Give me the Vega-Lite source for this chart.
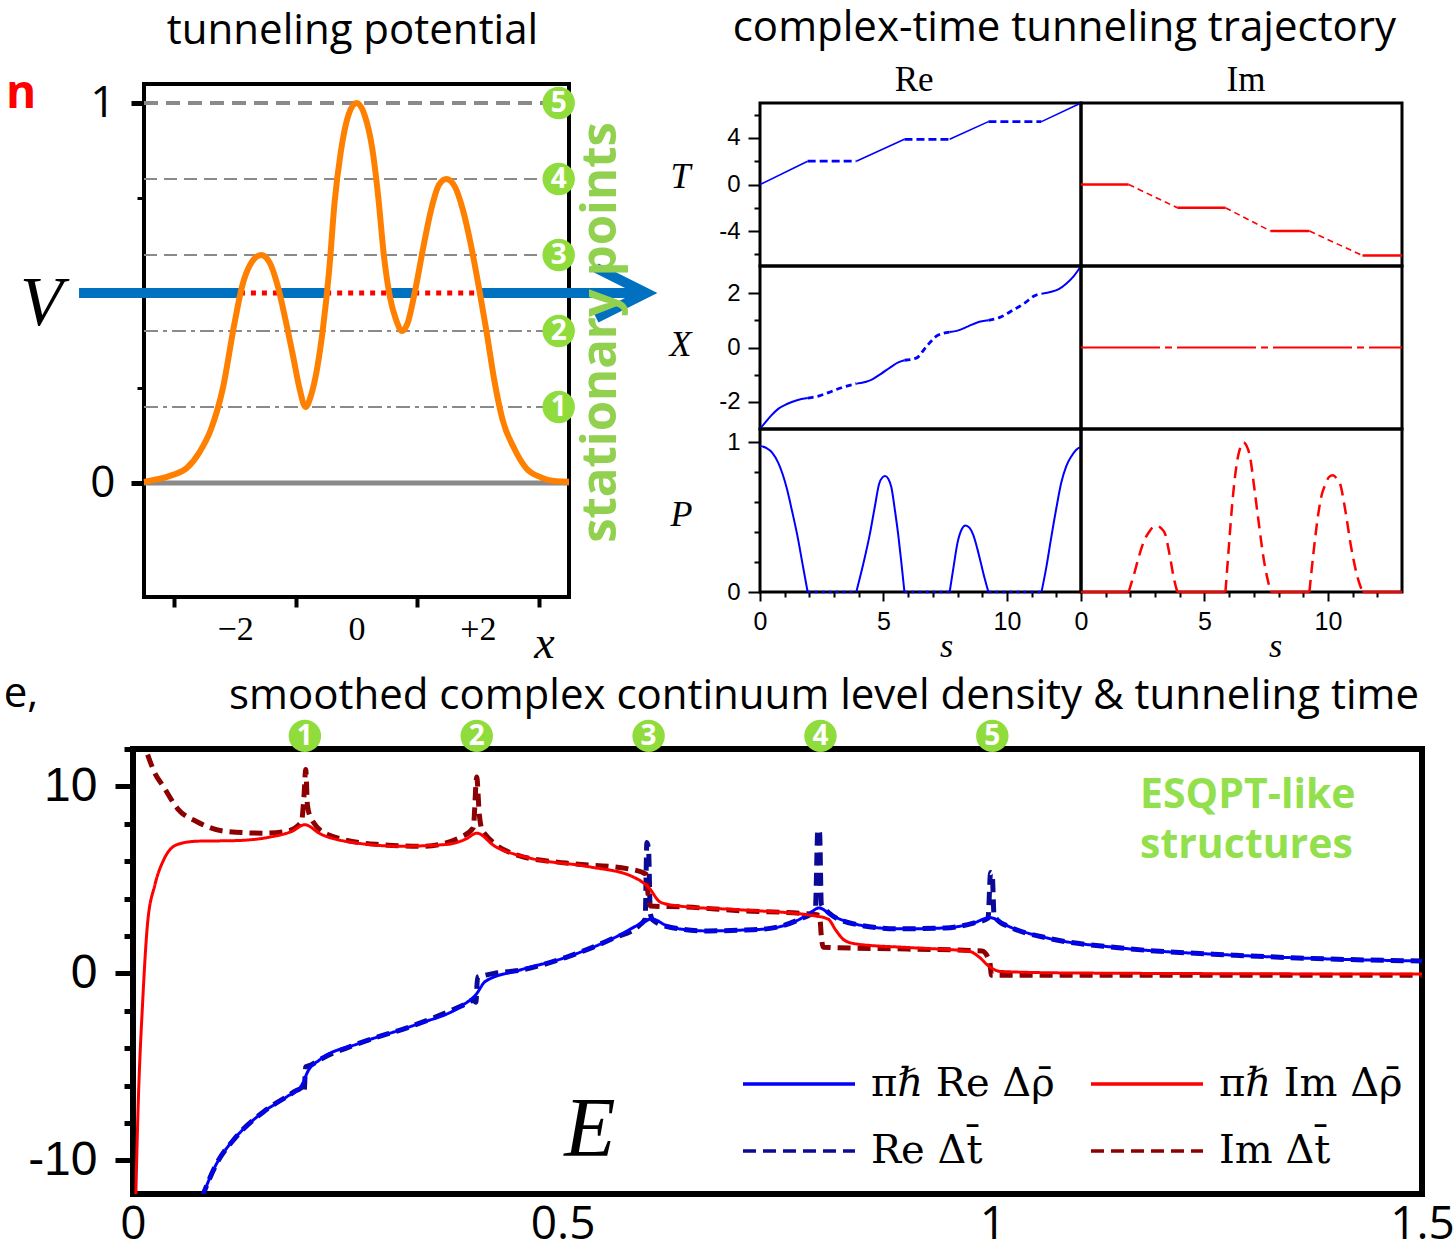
{
"$schema": "https://vega.github.io/schema/vega-lite/v6.json",
"padding": {"left": 0, "top": 5, "right": 0, "bottom": 0},
"background": "white",
"config": {"view": {"stroke": null}, "axis": {"domain": false, "grid": false, "tickColor": "black", "labelColor": "black", "titleColor": "black", "labelOverlap": false}},
"datasets": {
"pot": [{"x":-3.5,"V":0.003},{"x":-3.05,"V":0.02},{"x":-2.79,"V":0.04},{"x":-2.59,"V":0.08},{"x":-2.4,"V":0.14},{"x":-2.2,"V":0.25},{"x":-2.01,"V":0.42},{"x":-1.88,"V":0.52},{"x":-1.75,"V":0.575},{"x":-1.57,"V":0.6},{"x":-1.43,"V":0.58},{"x":-1.3,"V":0.52},{"x":-1.17,"V":0.43},{"x":-1.04,"V":0.33},{"x":-0.94,"V":0.25},{"x":-0.84,"V":0.2},{"x":-0.75,"V":0.23},{"x":-0.65,"V":0.3},{"x":-0.55,"V":0.41},{"x":-0.45,"V":0.56},{"x":-0.36,"V":0.74},{"x":-0.26,"V":0.87},{"x":-0.13,"V":0.97},{"x":0,"V":1.0},{"x":0.13,"V":0.97},{"x":0.26,"V":0.88},{"x":0.36,"V":0.75},{"x":0.45,"V":0.6},{"x":0.55,"V":0.49},{"x":0.65,"V":0.43},{"x":0.75,"V":0.4},{"x":0.84,"V":0.42},{"x":0.97,"V":0.51},{"x":1.1,"V":0.62},{"x":1.23,"V":0.72},{"x":1.36,"V":0.785},{"x":1.48,"V":0.8},{"x":1.62,"V":0.78},{"x":1.75,"V":0.72},{"x":1.88,"V":0.63},{"x":2.01,"V":0.52},{"x":2.14,"V":0.4},{"x":2.27,"V":0.27},{"x":2.4,"V":0.17},{"x":2.6,"V":0.09},{"x":2.79,"V":0.04},{"x":3.05,"V":0.014},{"x":3.25,"V":0.005},{"x":3.5,"V":0.003}],
"levels": [{"n":1,"level":0.2},{"n":2,"level":0.4},{"n":3,"level":0.6},{"n":4,"level":0.8},{"n":5,"level":1.0}],
"arrow": [{"x1":-4.57,"x2":-1.92,"kind":"real"},{"x1":-1.92,"x2":-1.27,"kind":"imag"},{"x1":-1.27,"x2":-0.5,"kind":"real"},{"x1":-0.5,"x2":0.55,"kind":"imag"},{"x1":0.55,"x2":0.95,"kind":"real"},{"x1":0.95,"x2":2.05,"kind":"imag"},{"x1":2.05,"x2":4.6,"kind":"real"}],
"traj": [
{"p":"ReT","seg":1,"kind":"real","s":0,"v":0},{"p":"ReT","seg":1,"kind":"real","s":1.93,"v":2.0},
{"p":"ReT","seg":2,"kind":"imag","s":1.93,"v":2.0},{"p":"ReT","seg":2,"kind":"imag","s":3.9,"v":2.0},
{"p":"ReT","seg":3,"kind":"real","s":3.9,"v":2.0},{"p":"ReT","seg":3,"kind":"real","s":5.85,"v":3.88},
{"p":"ReT","seg":4,"kind":"imag","s":5.85,"v":3.88},{"p":"ReT","seg":4,"kind":"imag","s":7.68,"v":3.88},
{"p":"ReT","seg":5,"kind":"real","s":7.68,"v":3.88},{"p":"ReT","seg":5,"kind":"real","s":9.25,"v":5.4},
{"p":"ReT","seg":6,"kind":"imag","s":9.25,"v":5.4},{"p":"ReT","seg":6,"kind":"imag","s":11.4,"v":5.4},
{"p":"ReT","seg":7,"kind":"real","s":11.4,"v":5.4},{"p":"ReT","seg":7,"kind":"real","s":13,"v":7.0},
{"p":"ImT","seg":1,"kind":"real","s":0,"v":0},{"p":"ImT","seg":1,"kind":"real","s":1.93,"v":0},
{"p":"ImT","seg":2,"kind":"imag","s":1.93,"v":0},{"p":"ImT","seg":2,"kind":"imag","s":3.9,"v":-2},
{"p":"ImT","seg":3,"kind":"real","s":3.9,"v":-2},{"p":"ImT","seg":3,"kind":"real","s":5.85,"v":-2},
{"p":"ImT","seg":4,"kind":"imag","s":5.85,"v":-2},{"p":"ImT","seg":4,"kind":"imag","s":7.68,"v":-4},
{"p":"ImT","seg":5,"kind":"real","s":7.68,"v":-4},{"p":"ImT","seg":5,"kind":"real","s":9.25,"v":-4},
{"p":"ImT","seg":6,"kind":"imag","s":9.25,"v":-4},{"p":"ImT","seg":6,"kind":"imag","s":11.4,"v":-6.1},
{"p":"ImT","seg":7,"kind":"real","s":11.4,"v":-6.1},{"p":"ImT","seg":7,"kind":"real","s":13,"v":-6.1},
{"p":"ReX","seg":1,"kind":"real","s":0,"v":-3.0},{"p":"ReX","seg":1,"kind":"real","s":0.25,"v":-2.72},{"p":"ReX","seg":1,"kind":"real","s":0.46,"v":-2.5},{"p":"ReX","seg":1,"kind":"real","s":0.75,"v":-2.25},{"p":"ReX","seg":1,"kind":"real","s":1.09,"v":-2.08},{"p":"ReX","seg":1,"kind":"real","s":1.5,"v":-1.94},{"p":"ReX","seg":1,"kind":"real","s":1.93,"v":-1.86},
{"p":"ReX","seg":2,"kind":"imag","s":1.93,"v":-1.86},{"p":"ReX","seg":2,"kind":"imag","s":2.4,"v":-1.78},{"p":"ReX","seg":2,"kind":"imag","s":2.77,"v":-1.66},{"p":"ReX","seg":2,"kind":"imag","s":3.3,"v":-1.48},{"p":"ReX","seg":2,"kind":"imag","s":3.9,"v":-1.33},
{"p":"ReX","seg":3,"kind":"real","s":3.9,"v":-1.33},{"p":"ReX","seg":3,"kind":"real","s":4.3,"v":-1.26},{"p":"ReX","seg":3,"kind":"real","s":4.55,"v":-1.17},{"p":"ReX","seg":3,"kind":"real","s":4.9,"v":-0.97},{"p":"ReX","seg":3,"kind":"real","s":5.28,"v":-0.73},{"p":"ReX","seg":3,"kind":"real","s":5.6,"v":-0.55},{"p":"ReX","seg":3,"kind":"real","s":5.85,"v":-0.47},
{"p":"ReX","seg":4,"kind":"imag","s":5.85,"v":-0.47},{"p":"ReX","seg":4,"kind":"imag","s":6.33,"v":-0.39},{"p":"ReX","seg":4,"kind":"imag","s":6.75,"v":0.05},{"p":"ReX","seg":4,"kind":"imag","s":7.2,"v":0.45},{"p":"ReX","seg":4,"kind":"imag","s":7.68,"v":0.57},
{"p":"ReX","seg":5,"kind":"real","s":7.68,"v":0.57},{"p":"ReX","seg":5,"kind":"real","s":8.0,"v":0.62},{"p":"ReX","seg":5,"kind":"real","s":8.43,"v":0.78},{"p":"ReX","seg":5,"kind":"real","s":8.8,"v":0.92},{"p":"ReX","seg":5,"kind":"real","s":9.25,"v":1.0},
{"p":"ReX","seg":6,"kind":"imag","s":9.25,"v":1.0},{"p":"ReX","seg":6,"kind":"imag","s":9.69,"v":1.1},{"p":"ReX","seg":6,"kind":"imag","s":10.2,"v":1.35},{"p":"ReX","seg":6,"kind":"imag","s":10.73,"v":1.64},{"p":"ReX","seg":6,"kind":"imag","s":11.1,"v":1.9},{"p":"ReX","seg":6,"kind":"imag","s":11.4,"v":1.98},
{"p":"ReX","seg":7,"kind":"real","s":11.4,"v":1.98},{"p":"ReX","seg":7,"kind":"real","s":11.8,"v":2.05},{"p":"ReX","seg":7,"kind":"real","s":12.1,"v":2.15},{"p":"ReX","seg":7,"kind":"real","s":12.4,"v":2.35},{"p":"ReX","seg":7,"kind":"real","s":12.7,"v":2.62},{"p":"ReX","seg":7,"kind":"real","s":13,"v":3.0},
{"p":"ImX","seg":1,"kind":"real","s":0,"v":0},{"p":"ImX","seg":1,"kind":"real","s":13,"v":0},
{"p":"ReP","seg":1,"kind":"real","s":0,"v":0.977},{"p":"ReP","seg":1,"kind":"real","s":0.25,"v":0.963},{"p":"ReP","seg":1,"kind":"real","s":0.5,"v":0.93},{"p":"ReP","seg":1,"kind":"real","s":0.75,"v":0.86},{"p":"ReP","seg":1,"kind":"real","s":1.09,"v":0.69},{"p":"ReP","seg":1,"kind":"real","s":1.3,"v":0.54},{"p":"ReP","seg":1,"kind":"real","s":1.51,"v":0.38},{"p":"ReP","seg":1,"kind":"real","s":1.72,"v":0.19},{"p":"ReP","seg":1,"kind":"real","s":1.93,"v":0},
{"p":"ReP","seg":2,"kind":"imag","s":1.93,"v":0},{"p":"ReP","seg":2,"kind":"imag","s":3.9,"v":0},
{"p":"ReP","seg":3,"kind":"real","s":3.9,"v":0},{"p":"ReP","seg":3,"kind":"real","s":4.2,"v":0.2},{"p":"ReP","seg":3,"kind":"real","s":4.44,"v":0.38},{"p":"ReP","seg":3,"kind":"real","s":4.65,"v":0.57},{"p":"ReP","seg":3,"kind":"real","s":4.82,"v":0.72},{"p":"ReP","seg":3,"kind":"real","s":4.95,"v":0.765},{"p":"ReP","seg":3,"kind":"real","s":5.07,"v":0.775},{"p":"ReP","seg":3,"kind":"real","s":5.2,"v":0.755},{"p":"ReP","seg":3,"kind":"real","s":5.32,"v":0.7},{"p":"ReP","seg":3,"kind":"real","s":5.47,"v":0.54},{"p":"ReP","seg":3,"kind":"real","s":5.6,"v":0.38},{"p":"ReP","seg":3,"kind":"real","s":5.73,"v":0.19},{"p":"ReP","seg":3,"kind":"real","s":5.85,"v":0},
{"p":"ReP","seg":4,"kind":"imag","s":5.85,"v":0},{"p":"ReP","seg":4,"kind":"imag","s":7.68,"v":0},
{"p":"ReP","seg":5,"kind":"real","s":7.68,"v":0},{"p":"ReP","seg":5,"kind":"real","s":7.85,"v":0.18},{"p":"ReP","seg":5,"kind":"real","s":8.0,"v":0.33},{"p":"ReP","seg":5,"kind":"real","s":8.17,"v":0.42},{"p":"ReP","seg":5,"kind":"real","s":8.32,"v":0.445},{"p":"ReP","seg":5,"kind":"real","s":8.48,"v":0.43},{"p":"ReP","seg":5,"kind":"real","s":8.64,"v":0.38},{"p":"ReP","seg":5,"kind":"real","s":8.8,"v":0.29},{"p":"ReP","seg":5,"kind":"real","s":8.95,"v":0.19},{"p":"ReP","seg":5,"kind":"real","s":9.1,"v":0.09},{"p":"ReP","seg":5,"kind":"real","s":9.25,"v":0},
{"p":"ReP","seg":6,"kind":"imag","s":9.25,"v":0},{"p":"ReP","seg":6,"kind":"imag","s":11.4,"v":0},
{"p":"ReP","seg":7,"kind":"real","s":11.4,"v":0},{"p":"ReP","seg":7,"kind":"real","s":11.6,"v":0.17},{"p":"ReP","seg":7,"kind":"real","s":11.78,"v":0.35},{"p":"ReP","seg":7,"kind":"real","s":12.0,"v":0.56},{"p":"ReP","seg":7,"kind":"real","s":12.2,"v":0.73},{"p":"ReP","seg":7,"kind":"real","s":12.4,"v":0.84},{"p":"ReP","seg":7,"kind":"real","s":12.62,"v":0.91},{"p":"ReP","seg":7,"kind":"real","s":12.8,"v":0.95},{"p":"ReP","seg":7,"kind":"real","s":13,"v":0.97},
{"p":"ImP","seg":1,"kind":"real","s":0,"v":0},{"p":"ImP","seg":1,"kind":"real","s":1.93,"v":0},
{"p":"ImP","seg":2,"kind":"imag","s":1.93,"v":0},{"p":"ImP","seg":2,"kind":"imag","s":2.15,"v":0.12},{"p":"ImP","seg":2,"kind":"imag","s":2.35,"v":0.24},{"p":"ImP","seg":2,"kind":"imag","s":2.55,"v":0.34},{"p":"ImP","seg":2,"kind":"imag","s":2.77,"v":0.405},{"p":"ImP","seg":2,"kind":"imag","s":2.93,"v":0.435},{"p":"ImP","seg":2,"kind":"imag","s":3.08,"v":0.44},{"p":"ImP","seg":2,"kind":"imag","s":3.25,"v":0.425},{"p":"ImP","seg":2,"kind":"imag","s":3.4,"v":0.39},{"p":"ImP","seg":2,"kind":"imag","s":3.6,"v":0.24},{"p":"ImP","seg":2,"kind":"imag","s":3.75,"v":0.1},{"p":"ImP","seg":2,"kind":"imag","s":3.9,"v":0},
{"p":"ImP","seg":3,"kind":"real","s":3.9,"v":0},{"p":"ImP","seg":3,"kind":"real","s":5.85,"v":0},
{"p":"ImP","seg":4,"kind":"imag","s":5.85,"v":0},{"p":"ImP","seg":4,"kind":"imag","s":6.0,"v":0.33},{"p":"ImP","seg":4,"kind":"imag","s":6.12,"v":0.58},{"p":"ImP","seg":4,"kind":"imag","s":6.3,"v":0.85},{"p":"ImP","seg":4,"kind":"imag","s":6.44,"v":0.96},{"p":"ImP","seg":4,"kind":"imag","s":6.58,"v":1.0},{"p":"ImP","seg":4,"kind":"imag","s":6.7,"v":0.98},{"p":"ImP","seg":4,"kind":"imag","s":6.85,"v":0.9},{"p":"ImP","seg":4,"kind":"imag","s":7.0,"v":0.72},{"p":"ImP","seg":4,"kind":"imag","s":7.17,"v":0.5},{"p":"ImP","seg":4,"kind":"imag","s":7.4,"v":0.22},{"p":"ImP","seg":4,"kind":"imag","s":7.68,"v":0},
{"p":"ImP","seg":5,"kind":"real","s":7.68,"v":0},{"p":"ImP","seg":5,"kind":"real","s":9.25,"v":0},
{"p":"ImP","seg":6,"kind":"imag","s":9.25,"v":0},{"p":"ImP","seg":6,"kind":"imag","s":9.42,"v":0.27},{"p":"ImP","seg":6,"kind":"imag","s":9.59,"v":0.5},{"p":"ImP","seg":6,"kind":"imag","s":9.75,"v":0.65},{"p":"ImP","seg":6,"kind":"imag","s":9.9,"v":0.72},{"p":"ImP","seg":6,"kind":"imag","s":10.05,"v":0.77},{"p":"ImP","seg":6,"kind":"imag","s":10.2,"v":0.78},{"p":"ImP","seg":6,"kind":"imag","s":10.35,"v":0.76},{"p":"ImP","seg":6,"kind":"imag","s":10.5,"v":0.72},{"p":"ImP","seg":6,"kind":"imag","s":10.7,"v":0.55},{"p":"ImP","seg":6,"kind":"imag","s":10.94,"v":0.3},{"p":"ImP","seg":6,"kind":"imag","s":11.15,"v":0.13},{"p":"ImP","seg":6,"kind":"imag","s":11.4,"v":0},
{"p":"ImP","seg":7,"kind":"real","s":11.4,"v":0},{"p":"ImP","seg":7,"kind":"real","s":13,"v":0}
],
"dos": [
{"series":"ReRho","q":"rho","E":0.08,"v":-12},{"series":"ReRho","q":"rho","E":0.097,"v":-10.2},{"series":"ReRho","q":"rho","E":0.119,"v":-8.8},{"series":"ReRho","q":"rho","E":0.152,"v":-7.4},{"series":"ReRho","q":"rho","E":0.179,"v":-6.6},{"series":"ReRho","q":"rho","E":0.196,"v":-6.0},{"series":"ReRho","q":"rho","E":0.204,"v":-5.2},{"series":"ReRho","q":"rho","E":0.218,"v":-4.6},{"series":"ReRho","q":"rho","E":0.262,"v":-3.76},{"series":"ReRho","q":"rho","E":0.328,"v":-2.76},{"series":"ReRho","q":"rho","E":0.382,"v":-1.75},{"series":"ReRho","q":"rho","E":0.399,"v":-1.14},{"series":"ReRho","q":"rho","E":0.41,"v":-0.43},{"series":"ReRho","q":"rho","E":0.449,"v":0.16},{"series":"ReRho","q":"rho","E":0.504,"v":0.86},{"series":"ReRho","q":"rho","E":0.559,"v":1.88},{"series":"ReRho","q":"rho","E":0.597,"v":2.8},{"series":"ReRho","q":"rho","E":0.603,"v":2.92},{"series":"ReRho","q":"rho","E":0.625,"v":2.47},{"series":"ReRho","q":"rho","E":0.668,"v":2.27},{"series":"ReRho","q":"rho","E":0.706,"v":2.31},{"series":"ReRho","q":"rho","E":0.737,"v":2.38},{"series":"ReRho","q":"rho","E":0.776,"v":2.9},{"series":"ReRho","q":"rho","E":0.79,"v":3.3},{"series":"ReRho","q":"rho","E":0.798,"v":3.5},{"series":"ReRho","q":"rho","E":0.814,"v":3.08},{"series":"ReRho","q":"rho","E":0.846,"v":2.58},{"series":"ReRho","q":"rho","E":0.89,"v":2.38},{"series":"ReRho","q":"rho","E":0.945,"v":2.43},{"series":"ReRho","q":"rho","E":0.978,"v":2.69},{"series":"ReRho","q":"rho","E":0.997,"v":2.98},{"series":"ReRho","q":"rho","E":1.021,"v":2.47},{"series":"ReRho","q":"rho","E":1.065,"v":1.88},{"series":"ReRho","q":"rho","E":1.147,"v":1.37},{"series":"ReRho","q":"rho","E":1.283,"v":0.97},{"series":"ReRho","q":"rho","E":1.392,"v":0.77},{"series":"ReRho","q":"rho","E":1.5,"v":0.66},
{"series":"ImRho","q":"rho","E":0.0032,"v":-12},{"series":"ImRho","q":"rho","E":0.0058,"v":-7.4},{"series":"ImRho","q":"rho","E":0.0115,"v":-1.3},{"series":"ImRho","q":"rho","E":0.017,"v":2.7},{"series":"ImRho","q":"rho","E":0.0253,"v":4.7},{"series":"ImRho","q":"rho","E":0.036,"v":6.1},{"series":"ImRho","q":"rho","E":0.052,"v":6.9},{"series":"ImRho","q":"rho","E":0.075,"v":7.07},{"series":"ImRho","q":"rho","E":0.119,"v":7.1},{"series":"ImRho","q":"rho","E":0.157,"v":7.27},{"series":"ImRho","q":"rho","E":0.185,"v":7.6},{"series":"ImRho","q":"rho","E":0.2,"v":7.95},{"series":"ImRho","q":"rho","E":0.218,"v":7.46},{"series":"ImRho","q":"rho","E":0.256,"v":7.0},{"series":"ImRho","q":"rho","E":0.311,"v":6.8},{"series":"ImRho","q":"rho","E":0.366,"v":6.9},{"series":"ImRho","q":"rho","E":0.388,"v":7.2},{"series":"ImRho","q":"rho","E":0.4,"v":7.5},{"series":"ImRho","q":"rho","E":0.421,"v":6.8},{"series":"ImRho","q":"rho","E":0.459,"v":6.2},{"series":"ImRho","q":"rho","E":0.531,"v":5.7},{"series":"ImRho","q":"rho","E":0.58,"v":5.2},{"series":"ImRho","q":"rho","E":0.6,"v":4.6},{"series":"ImRho","q":"rho","E":0.614,"v":3.8},{"series":"ImRho","q":"rho","E":0.636,"v":3.6},{"series":"ImRho","q":"rho","E":0.706,"v":3.4},{"series":"ImRho","q":"rho","E":0.79,"v":3.1},{"series":"ImRho","q":"rho","E":0.809,"v":2.9},{"series":"ImRho","q":"rho","E":0.818,"v":2.3},{"series":"ImRho","q":"rho","E":0.828,"v":1.77},{"series":"ImRho","q":"rho","E":0.842,"v":1.57},{"series":"ImRho","q":"rho","E":0.907,"v":1.37},{"series":"ImRho","q":"rho","E":0.973,"v":1.18},{"series":"ImRho","q":"rho","E":0.985,"v":0.86},{"series":"ImRho","q":"rho","E":0.996,"v":0.38},{"series":"ImRho","q":"rho","E":1.01,"v":0.1},{"series":"ImRho","q":"rho","E":1.094,"v":0.02},{"series":"ImRho","q":"rho","E":1.5,"v":-0.04},
{"series":"ReT","q":"t","E":0.08,"v":-12},{"series":"ReT","q":"t","E":0.097,"v":-10.2},{"series":"ReT","q":"t","E":0.119,"v":-8.8},{"series":"ReT","q":"t","E":0.152,"v":-7.4},{"series":"ReT","q":"t","E":0.179,"v":-6.6},{"series":"ReT","q":"t","E":0.195,"v":-6.2},{"series":"ReT","q":"t","E":0.199,"v":-6.4},{"series":"ReT","q":"t","E":0.201,"v":-5.0},{"series":"ReT","q":"t","E":0.207,"v":-4.9},{"series":"ReT","q":"t","E":0.218,"v":-4.6},{"series":"ReT","q":"t","E":0.262,"v":-3.76},{"series":"ReT","q":"t","E":0.328,"v":-2.76},{"series":"ReT","q":"t","E":0.382,"v":-1.75},{"series":"ReT","q":"t","E":0.396,"v":-1.45},{"series":"ReT","q":"t","E":0.399,"v":-1.55},{"series":"ReT","q":"t","E":0.401,"v":-0.2},{"series":"ReT","q":"t","E":0.41,"v":-0.1},{"series":"ReT","q":"t","E":0.42,"v":0.0},{"series":"ReT","q":"t","E":0.449,"v":0.16},{"series":"ReT","q":"t","E":0.504,"v":0.86},{"series":"ReT","q":"t","E":0.559,"v":1.88},{"series":"ReT","q":"t","E":0.59,"v":2.6},{"series":"ReT","q":"t","E":0.596,"v":2.9},{"series":"ReT","q":"t","E":0.598,"v":7.0},{"series":"ReT","q":"t","E":0.6,"v":6.6},{"series":"ReT","q":"t","E":0.602,"v":3.2},{"series":"ReT","q":"t","E":0.605,"v":2.85},{"series":"ReT","q":"t","E":0.625,"v":2.47},{"series":"ReT","q":"t","E":0.668,"v":2.27},{"series":"ReT","q":"t","E":0.706,"v":2.31},{"series":"ReT","q":"t","E":0.737,"v":2.38},{"series":"ReT","q":"t","E":0.776,"v":2.9},{"series":"ReT","q":"t","E":0.794,"v":3.35},{"series":"ReT","q":"t","E":0.797,"v":7.7},{"series":"ReT","q":"t","E":0.799,"v":7.5},{"series":"ReT","q":"t","E":0.801,"v":3.7},{"series":"ReT","q":"t","E":0.806,"v":3.4},{"series":"ReT","q":"t","E":0.814,"v":3.08},{"series":"ReT","q":"t","E":0.846,"v":2.58},{"series":"ReT","q":"t","E":0.89,"v":2.38},{"series":"ReT","q":"t","E":0.945,"v":2.43},{"series":"ReT","q":"t","E":0.978,"v":2.69},{"series":"ReT","q":"t","E":0.995,"v":2.95},{"series":"ReT","q":"t","E":0.998,"v":5.4},{"series":"ReT","q":"t","E":1.0,"v":5.2},{"series":"ReT","q":"t","E":1.002,"v":3.1},{"series":"ReT","q":"t","E":1.006,"v":2.85},{"series":"ReT","q":"t","E":1.021,"v":2.47},{"series":"ReT","q":"t","E":1.065,"v":1.88},{"series":"ReT","q":"t","E":1.147,"v":1.37},{"series":"ReT","q":"t","E":1.283,"v":0.97},{"series":"ReT","q":"t","E":1.392,"v":0.77},{"series":"ReT","q":"t","E":1.5,"v":0.66},
{"series":"ImT","q":"t","E":0.017,"v":11.7},{"series":"ImT","q":"t","E":0.025,"v":10.75},{"series":"ImT","q":"t","E":0.036,"v":9.95},{"series":"ImT","q":"t","E":0.052,"v":8.8},{"series":"ImT","q":"t","E":0.075,"v":8.1},{"series":"ImT","q":"t","E":0.107,"v":7.6},{"series":"ImT","q":"t","E":0.151,"v":7.5},{"series":"ImT","q":"t","E":0.179,"v":7.6},{"series":"ImT","q":"t","E":0.196,"v":8.1},{"series":"ImT","q":"t","E":0.199,"v":9.5},{"series":"ImT","q":"t","E":0.201,"v":10.9},{"series":"ImT","q":"t","E":0.203,"v":9.0},{"series":"ImT","q":"t","E":0.207,"v":8.3},{"series":"ImT","q":"t","E":0.228,"v":7.4},{"series":"ImT","q":"t","E":0.283,"v":6.9},{"series":"ImT","q":"t","E":0.338,"v":6.8},{"series":"ImT","q":"t","E":0.382,"v":7.3},{"series":"ImT","q":"t","E":0.396,"v":7.8},{"series":"ImT","q":"t","E":0.4,"v":10.5},{"series":"ImT","q":"t","E":0.403,"v":8.5},{"series":"ImT","q":"t","E":0.407,"v":7.6},{"series":"ImT","q":"t","E":0.449,"v":6.3},{"series":"ImT","q":"t","E":0.504,"v":5.9},{"series":"ImT","q":"t","E":0.575,"v":5.6},{"series":"ImT","q":"t","E":0.597,"v":5.3},{"series":"ImT","q":"t","E":0.599,"v":4.4},{"series":"ImT","q":"t","E":0.602,"v":3.6},{"series":"ImT","q":"t","E":0.641,"v":3.55},{"series":"ImT","q":"t","E":0.706,"v":3.35},{"series":"ImT","q":"t","E":0.781,"v":3.2},{"series":"ImT","q":"t","E":0.799,"v":3.1},{"series":"ImT","q":"t","E":0.801,"v":2.0},{"series":"ImT","q":"t","E":0.803,"v":1.4},{"series":"ImT","q":"t","E":0.901,"v":1.3},{"series":"ImT","q":"t","E":0.988,"v":1.2},{"series":"ImT","q":"t","E":0.997,"v":0.6},{"series":"ImT","q":"t","E":0.999,"v":-0.1},{"series":"ImT","q":"t","E":1.5,"v":-0.1}
]
},
"bounds": "flush",
"spacing": 665,
"vconcat": [
 {"bounds": "flush", "spacing": 0, "hconcat": [
  {"width": 11, "height": 1, "data": {"values": [{}]}, "mark": {"type": "point", "opacity": 0}},
  {"width": 425, "height": 513,
   "view": {"stroke": "black", "strokeWidth": 4},
   "layer": [
    {"data": {"values": [{}]}, "mark": {"type": "rule", "color": "#8a8a8a", "strokeWidth": 5},
     "encoding": {
      "x": {"datum": -3.5, "type": "quantitative", "scale": {"domain": [-3.5, 3.5], "nice": false, "zero": false},
        "axis": {"values": [-3,-2,-1,0,1,2,3], "labelExpr": "datum.value == -2 ? '\u22122' : datum.value == 2 ? '+2' : datum.value == 0 ? '0' : ''", "tickOpacity": {"condition": {"test": "datum.value % 2 == 0", "value": 0}, "value": 1}, "tickSize": 10, "tickWidth": 4, "labelFont": "Liberation Serif", "labelFontSize": 34, "labelPadding": 5, "labelFlush": false, "labelOverlap": false, "title": "x", "titleFont": "Liberation Serif", "titleFontStyle": "italic", "titleFontWeight": "normal", "titleFontSize": 46, "titleX": 400, "titleY": 60, "titleAlign": "center", "titleBaseline": "alphabetic"}},
      "x2": {"datum": 3.5},
      "y": {"datum": 0, "type": "quantitative", "scale": {"domain": [-0.3, 1.05], "nice": false, "zero": false},
        "axis": {"values": [0, 0.25, 0.5, 0.75, 1], "labelExpr": "datum.value == 0 || datum.value == 1 ? toString(datum.value) : ''", "tickSize": 13, "tickDash": {"condition": {"test": "datum.value != 0 && datum.value != 1", "value": [7, 40]}, "value": [100, 1]}, "tickWidth": {"condition": {"test": "datum.value == 0 || datum.value == 1", "value": 5}, "value": 3}, "labelFont": "Open Sans", "labelFontSize": 44, "labelPadding": 16, "labelOverlap": false, "title": null}}
     }},
    {"data": {"name": "levels"}, "transform": [{"filter": "datum.n == 5"}], "mark": {"type": "rule", "color": "#8a8a8a", "strokeWidth": 4, "strokeDash": [14, 8]},
     "encoding": {"x": {"datum": -3.5, "type": "quantitative"}, "x2": {"datum": 3.25}, "y": {"field": "level", "type": "quantitative"}}},
    {"data": {"name": "levels"}, "transform": [{"filter": "datum.n == 3 || datum.n == 4"}], "mark": {"type": "rule", "color": "#8a8a8a", "strokeWidth": 2, "strokeDash": [13, 7]},
     "encoding": {"x": {"datum": -3.5, "type": "quantitative"}, "x2": {"datum": 3.25}, "y": {"field": "level", "type": "quantitative"}}},
    {"data": {"name": "levels"}, "transform": [{"filter": "datum.n == 1 || datum.n == 2"}], "mark": {"type": "rule", "color": "#8a8a8a", "strokeWidth": 2, "strokeDash": [14, 5, 4, 5]},
     "encoding": {"x": {"datum": -3.5, "type": "quantitative"}, "x2": {"datum": 3.25}, "y": {"field": "level", "type": "quantitative"}}},
    {"data": {"name": "arrow"}, "transform": [{"filter": "datum.kind == 'real'"}], "mark": {"type": "rule", "color": "#0070c0", "strokeWidth": 10},
     "encoding": {"x": {"field": "x1", "type": "quantitative"}, "x2": {"field": "x2"}, "y": {"datum": 0.5, "type": "quantitative"}}},
    {"data": {"name": "arrow"}, "transform": [{"filter": "datum.kind == 'imag'"}], "mark": {"type": "rule", "color": "#ff0000", "strokeWidth": 5, "strokeDash": [5, 6]},
     "encoding": {"x": {"field": "x1", "type": "quantitative"}, "x2": {"field": "x2"}, "y": {"datum": 0.5, "type": "quantitative"}}},
    {"data": {"name": "pot"}, "mark": {"type": "line", "color": "#ff8000", "strokeWidth": 6, "interpolate": "monotone"},
     "encoding": {"x": {"field": "x", "type": "quantitative"}, "y": {"field": "V", "type": "quantitative"}}},
    {"data": {"values": [{}]}, "mark": {"type": "point", "shape": "M -1 -1 L 1 0 L -1 1", "filled": false, "color": "#0070c0", "stroke": "#0070c0", "strokeWidth": 10, "size": 2500, "opacity": 1, "strokeJoin": "miter"},
     "encoding": {"x": {"datum": 4.36, "type": "quantitative"}, "y": {"datum": 0.5, "type": "quantitative"}}},
    {"data": {"name": "levels"}, "mark": {"type": "point", "filled": true, "color": "#8fdc3c", "size": 1050, "opacity": 1},
     "encoding": {"x": {"datum": 3.33, "type": "quantitative"}, "y": {"field": "level", "type": "quantitative"}}},
    {"data": {"name": "levels"}, "mark": {"type": "text", "font": "Open Sans", "fontSize": 28, "fontWeight": "bold", "color": "white", "align": "center", "baseline": "middle", "dy": 1},
     "encoding": {"x": {"datum": 3.33, "type": "quantitative"}, "y": {"field": "level", "type": "quantitative"}, "text": {"field": "n", "type": "nominal"}}},
    {"data": {"values": [{}]}, "mark": {"type": "text", "text": "stationary points", "font": "Open Sans", "fontSize": 49, "fontWeight": "bold", "color": "#92d050", "angle": 270, "align": "center", "baseline": "middle"},
     "encoding": {"x": {"datum": 4.03, "type": "quantitative"}, "y": {"datum": 0.396, "type": "quantitative"}}},
    {"data": {"values": [{}]}, "mark": {"type": "text", "text": "V", "font": "Liberation Serif", "fontSize": 70, "fontStyle": "italic", "color": "black", "align": "center", "baseline": "alphabetic"},
     "encoding": {"x": {"datum": -5.19, "type": "quantitative"}, "y": {"datum": 0.416, "type": "quantitative"}}},
    {"data": {"values": [{}]}, "mark": {"type": "text", "text": "n", "font": "Open Sans", "fontSize": 46, "fontWeight": "bold", "color": "#ff0000", "align": "left", "baseline": "alphabetic"},
     "encoding": {"x": {"datum": -5.775, "type": "quantitative"}, "y": {"datum": 0.987, "type": "quantitative"}}},
    {"data": {"values": [{}]}, "mark": {"type": "text", "text": "tunneling potential", "font": "Open Sans", "fontSize": 42, "color": "black", "align": "center", "baseline": "alphabetic"},
     "encoding": {"x": {"datum": -0.066, "type": "quantitative"}, "y": {"datum": 1.155, "type": "quantitative"}}}
   ]},
  {"width": 191, "height": 1, "data": {"values": [{}]}, "mark": {"type": "point", "opacity": 0}},
  {"bounds": "flush", "spacing": 321, "hconcat": [
   {"bounds": "flush", "spacing": 0, "vconcat": [
    {"width": 321, "height": 19, "data": {"values": [{}]}, "mark": {"type": "point", "opacity": 0}},
    {"width": 321, "height": 163, "view": {"stroke": "black", "strokeWidth": 3},
     "data": {"name": "traj"}, "transform": [{"filter": "datum.p == 'ReT'"}],
     "layer": [
      {"transform": [{"filter": "datum.kind == 'real'"}], "mark": {"type": "line", "color": "#0000ff", "strokeWidth": 1.6, "interpolate": "monotone"},
       "encoding": {"x": {"field": "s", "type": "quantitative", "scale": {"domain": [0, 13], "nice": false, "zero": false}, "axis": null},
        "y": {"field": "v", "type": "quantitative", "scale": {"domain": [-7, 7], "nice": false, "zero": false},
         "axis": {"values": [-6,-4,-2,0,2,4,6], "labelExpr": "datum.value % 4 == 0 ? toString(datum.value) : ''", "tickSize": 12, "tickDash": {"condition": {"test": "datum.value % 4 != 0", "value": [6, 40]}, "value": [100, 1]}, "tickWidth": 2, "labelFont": "Liberation Sans", "labelFontSize": 24, "labelPadding": 8, "labelOverlap": false, "title": "T", "titleFont": "Liberation Serif", "titleFontStyle": "italic", "titleFontWeight": "normal", "titleFontSize": 36, "titleAngle": 0, "titleX": -80, "titleY": 73, "titleAlign": "center", "titleBaseline": "middle"}},
        "detail": {"field": "seg", "type": "nominal"}}},
      {"transform": [{"filter": "datum.kind == 'imag'"}], "mark": {"type": "line", "color": "#0000ff", "strokeWidth": 2.8, "strokeDash": [8, 4], "interpolate": "monotone"},
       "encoding": {"x": {"field": "s", "type": "quantitative", "scale": {"domain": [0, 13], "nice": false, "zero": false}, "axis": null},
        "y": {"field": "v", "type": "quantitative", "scale": {"domain": [-7, 7], "nice": false, "zero": false},
         "axis": {"values": [-6,-4,-2,0,2,4,6], "labelExpr": "datum.value % 4 == 0 ? toString(datum.value) : ''", "tickSize": 12, "tickDash": {"condition": {"test": "datum.value % 4 != 0", "value": [6, 40]}, "value": [100, 1]}, "tickWidth": 2, "labelFont": "Liberation Sans", "labelFontSize": 24, "labelPadding": 8, "labelOverlap": false, "title": "T", "titleFont": "Liberation Serif", "titleFontStyle": "italic", "titleFontWeight": "normal", "titleFontSize": 36, "titleAngle": 0, "titleX": -80, "titleY": 73, "titleAlign": "center", "titleBaseline": "middle"}},
        "detail": {"field": "seg", "type": "nominal"}}},
      {"data": {"values": [{}]}, "mark": {"type": "text", "text": "Re", "font": "Liberation Serif", "fontSize": 35, "color": "black", "align": "center", "baseline": "alphabetic"},
       "encoding": {"x": {"datum": 6.24, "type": "quantitative", "scale": {"domain": [0, 13], "nice": false, "zero": false}, "axis": null},
        "y": {"datum": 7.99, "type": "quantitative", "scale": {"domain": [-7, 7], "nice": false, "zero": false},
         "axis": {"values": [-6,-4,-2,0,2,4,6], "labelExpr": "datum.value % 4 == 0 ? toString(datum.value) : ''", "tickSize": 12, "tickDash": {"condition": {"test": "datum.value % 4 != 0", "value": [6, 40]}, "value": [100, 1]}, "tickWidth": 2, "labelFont": "Liberation Sans", "labelFontSize": 24, "labelPadding": 8, "labelOverlap": false, "title": "T", "titleFont": "Liberation Serif", "titleFontStyle": "italic", "titleFontWeight": "normal", "titleFontSize": 36, "titleAngle": 0, "titleX": -80, "titleY": 73, "titleAlign": "center", "titleBaseline": "middle"}}}}
     ]},
    {"width": 321, "height": 163, "view": {"stroke": "black", "strokeWidth": 3},
     "data": {"name": "traj"}, "transform": [{"filter": "datum.p == 'ReX'"}],
     "encoding": {
      "x": {"field": "s", "type": "quantitative", "scale": {"domain": [0, 13], "nice": false, "zero": false}, "axis": null},
      "y": {"field": "v", "type": "quantitative", "scale": {"domain": [-3, 3], "nice": false, "zero": false},
       "axis": {"values": [-2,-1,0,1,2], "labelExpr": "datum.value % 2 == 0 ? toString(datum.value) : ''", "tickSize": 12, "tickDash": {"condition": {"test": "datum.value % 2 != 0", "value": [6, 40]}, "value": [100, 1]}, "tickWidth": 2, "labelFont": "Liberation Sans", "labelFontSize": 24, "labelPadding": 8, "labelOverlap": false, "title": "X", "titleFont": "Liberation Serif", "titleFontStyle": "italic", "titleFontWeight": "normal", "titleFontSize": 36, "titleAngle": 0, "titleX": -80, "titleY": 78, "titleAlign": "center", "titleBaseline": "middle"}},
      "detail": {"field": "seg", "type": "nominal"}},
     "layer": [
      {"transform": [{"filter": "datum.kind == 'real'"}], "mark": {"type": "line", "color": "#0000ff", "strokeWidth": 2, "interpolate": "monotone"}},
      {"transform": [{"filter": "datum.kind == 'imag'"}], "mark": {"type": "line", "color": "#0000ff", "strokeWidth": 2.8, "strokeDash": [6, 4], "interpolate": "monotone"}}
     ]},
    {"width": 321, "height": 163, "view": {"stroke": "black", "strokeWidth": 3},
     "data": {"name": "traj"}, "transform": [{"filter": "datum.p == 'ReP'"}],
     "encoding": {
      "x": {"field": "s", "type": "quantitative", "scale": {"domain": [0, 13], "nice": false, "zero": false},
        "axis": {"values": [0,1,2,3,4,5,6,7,8,9,10,11,12], "labelExpr": "datum.value % 5 == 0 ? toString(datum.value) : ''", "tickSize": 9, "tickDash": {"condition": {"test": "datum.value % 5 != 0", "value": [5, 40]}, "value": [100, 1]}, "tickWidth": 2, "labelFont": "Liberation Sans", "labelFontSize": 25, "labelPadding": 8, "labelFlush": false, "labelOverlap": false, "title": "s", "titleFont": "Liberation Serif", "titleFontStyle": "italic", "titleFontWeight": "normal", "titleFontSize": 34, "titleX": 186, "titleY": 64, "titleAlign": "center", "titleBaseline": "alphabetic"}},
      "y": {"field": "v", "type": "quantitative", "scale": {"domain": [0, 1.09], "nice": false, "zero": false},
        "axis": {"values": [0, 0.2, 0.4, 0.6, 0.8, 1], "labelExpr": "datum.value == 0 || datum.value == 1 ? toString(datum.value) : ''", "tickSize": 12, "tickDash": {"condition": {"test": "datum.value != 0 && datum.value != 1", "value": [6, 40]}, "value": [100, 1]}, "tickWidth": 2, "labelFont": "Liberation Sans", "labelFontSize": 24, "labelPadding": 8, "labelOverlap": false, "title": "P", "titleFont": "Liberation Serif", "titleFontStyle": "italic", "titleFontWeight": "normal", "titleFontSize": 36, "titleAngle": 0, "titleX": -79, "titleY": 85, "titleAlign": "center", "titleBaseline": "middle"}},
      "detail": {"field": "seg", "type": "nominal"}},
     "layer": [
      {"transform": [{"filter": "datum.kind == 'real'"}], "mark": {"type": "line", "color": "#0000ff", "strokeWidth": 2, "interpolate": "monotone"}},
      {"transform": [{"filter": "datum.kind == 'imag'"}], "mark": {"type": "line", "color": "#0000ff", "strokeWidth": 2.5, "strokeDash": [3, 4], "interpolate": "monotone"}}
     ]}
   ]},
   {"bounds": "flush", "spacing": 0, "vconcat": [
    {"width": 321, "height": 19, "data": {"values": [{}]}, "mark": {"type": "point", "opacity": 0}},
    {"width": 321, "height": 163, "view": {"stroke": "black", "strokeWidth": 3},
     "data": {"name": "traj"}, "transform": [{"filter": "datum.p == 'ImT'"}],
     "layer": [
      {"transform": [{"filter": "datum.kind == 'real'"}], "mark": {"type": "line", "color": "#ff0000", "strokeWidth": 2.6, "interpolate": "monotone"},
       "encoding": {"x": {"field": "s", "type": "quantitative", "scale": {"domain": [0, 13], "nice": false, "zero": false}, "axis": null}, "y": {"field": "v", "type": "quantitative", "scale": {"domain": [-7, 7], "nice": false, "zero": false}, "axis": null}, "detail": {"field": "seg", "type": "nominal"}}},
      {"transform": [{"filter": "datum.kind == 'imag'"}], "mark": {"type": "line", "color": "#ff0000", "strokeWidth": 1.6, "strokeDash": [6, 4], "interpolate": "monotone"},
       "encoding": {"x": {"field": "s", "type": "quantitative", "axis": null}, "y": {"field": "v", "type": "quantitative", "axis": null}, "detail": {"field": "seg", "type": "nominal"}}},
      {"data": {"values": [{}]}, "mark": {"type": "text", "text": "Im", "font": "Liberation Serif", "fontSize": 35, "color": "black", "align": "center", "baseline": "alphabetic"},
       "encoding": {"x": {"datum": 6.68, "type": "quantitative", "axis": null}, "y": {"datum": 7.99, "type": "quantitative", "axis": null}}},
      {"data": {"values": [{}]}, "mark": {"type": "text", "text": "complex-time tunneling trajectory", "font": "Open Sans", "fontSize": 42, "color": "black", "align": "right", "baseline": "alphabetic"},
       "encoding": {"x": {"datum": 12.76, "type": "quantitative", "axis": null}, "y": {"datum": 12.32, "type": "quantitative", "axis": null}}}
     ]},
    {"width": 321, "height": 163, "view": {"stroke": "black", "strokeWidth": 3},
     "data": {"name": "traj"}, "transform": [{"filter": "datum.p == 'ImX'"}],
     "mark": {"type": "line", "color": "#ff0000", "strokeWidth": 2, "strokeDash": [79, 5, 7, 5]},
     "encoding": {"x": {"field": "s", "type": "quantitative", "scale": {"domain": [0, 13], "nice": false, "zero": false}, "axis": null}, "y": {"field": "v", "type": "quantitative", "scale": {"domain": [-3, 3], "nice": false, "zero": false}, "axis": null}}},
    {"width": 321, "height": 163, "view": {"stroke": "black", "strokeWidth": 3},
     "data": {"name": "traj"}, "transform": [{"filter": "datum.p == 'ImP'"}],
     "encoding": {
      "x": {"field": "s", "type": "quantitative", "scale": {"domain": [0, 13], "nice": false, "zero": false},
        "axis": {"values": [0,1,2,3,4,5,6,7,8,9,10,11,12], "labelExpr": "datum.value % 5 == 0 ? toString(datum.value) : ''", "tickSize": 9, "tickDash": {"condition": {"test": "datum.value % 5 != 0", "value": [5, 40]}, "value": [100, 1]}, "tickWidth": 2, "labelFont": "Liberation Sans", "labelFontSize": 25, "labelPadding": 8, "labelFlush": false, "labelOverlap": false, "title": "s", "titleFont": "Liberation Serif", "titleFontStyle": "italic", "titleFontWeight": "normal", "titleFontSize": 34, "titleX": 194, "titleY": 64, "titleAlign": "center", "titleBaseline": "alphabetic"}},
      "y": {"field": "v", "type": "quantitative", "scale": {"domain": [0, 1.09], "nice": false, "zero": false}, "axis": null},
      "detail": {"field": "seg", "type": "nominal"}},
     "layer": [
      {"transform": [{"filter": "datum.kind == 'real'"}], "mark": {"type": "line", "color": "#ff0000", "strokeWidth": 2.5, "interpolate": "monotone"}},
      {"transform": [{"filter": "datum.kind == 'imag'"}], "mark": {"type": "line", "color": "#ff0000", "strokeWidth": 2.5, "strokeDash": [12, 7], "interpolate": "monotone"}}
     ]}
   ]}
  ]}
 ]},
 {"width": 1289, "height": 445,
  "view": {"stroke": "black", "strokeWidth": 6},
  "layer": [
   {"data": {"name": "dos"}, "transform": [{"filter": "datum.q == 't'"}],
    "mark": {"type": "line", "strokeWidth": 5, "interpolate": "monotone", "clip": true},
    "encoding": {
     "x": {"field": "E", "type": "quantitative", "scale": {"domain": [0, 1.5], "nice": false, "zero": false},
       "axis": {"values": [0, 0.5, 1, 1.5], "labelExpr": "toString(datum.value)", "ticks": false, "labelFont": "Open Sans", "labelFontSize": 46, "labelPadding": 8, "labelFlush": false, "labelOverlap": false, "title": null}},
     "y": {"field": "v", "type": "quantitative", "scale": {"domain": [-11.8, 12], "nice": false, "zero": false},
       "axis": {"values": [-10,-8,-6,-4,-2,0,2,4,6,8,10,12], "labelExpr": "datum.value % 10 == 0 ? toString(datum.value) : ''", "tickSize": 18, "tickDash": {"condition": {"test": "datum.value % 10 != 0", "value": [9, 40]}, "value": [100, 1]}, "tickWidth": 5, "labelFont": "Liberation Sans", "labelFontSize": 48, "labelPadding": 18, "labelOverlap": false, "title": null}},
     "color": {"field": "series", "type": "nominal", "scale": {"domain": ["ReRho", "ReT", "ImRho", "ImT"], "range": ["#0000ff", "#0a0a96", "#ff0000", "#8b0000"]},
       "legend": {"orient": "none", "legendX": 608, "legendY": 975, "columns": 2, "title": null, "symbolType": "stroke", "symbolSize": 12544, "symbolStrokeWidth": 3.5, "clipHeight": 50, "labelFont": "DejaVu Serif", "labelFontSize": 40, "labelColor": "black", "labelOffset": 14, "labelLimit": 0, "columnPadding": 34, "rowPadding": 17, "padding": 0,
        "labelExpr": "datum.label == 'ReRho' ? '\u03c0\u210f Re \u0394\u03c1\u0304' : datum.label == 'ImRho' ? '\u03c0\u210f Im \u0394\u03c1\u0304' : datum.label == 'ReT' ? 'Re \u0394t\u0304' : 'Im \u0394t\u0304'"}},
     "strokeDash": {"field": "series", "type": "nominal", "scale": {"domain": ["ReRho", "ReT", "ImRho", "ImT"], "range": [[1, 0], [13, 7], [1, 0], [13, 7]]},
       "legend": {"orient": "none", "legendX": 608, "legendY": 975, "columns": 2, "title": null, "symbolType": "stroke", "symbolSize": 12544, "symbolStrokeWidth": 3.5, "clipHeight": 50, "labelFont": "DejaVu Serif", "labelFontSize": 40, "labelColor": "black", "labelOffset": 14, "labelLimit": 0, "columnPadding": 34, "rowPadding": 17, "padding": 0,
        "labelExpr": "datum.label == 'ReRho' ? '\u03c0\u210f Re \u0394\u03c1\u0304' : datum.label == 'ImRho' ? '\u03c0\u210f Im \u0394\u03c1\u0304' : datum.label == 'ReT' ? 'Re \u0394t\u0304' : 'Im \u0394t\u0304'"}}
    }},
   {"data": {"name": "dos"}, "transform": [{"filter": "datum.q == 'rho'"}],
    "mark": {"type": "line", "strokeWidth": 3, "interpolate": "monotone", "clip": true},
    "encoding": {
     "x": {"field": "E", "type": "quantitative"},
     "y": {"field": "v", "type": "quantitative"},
     "color": {"field": "series", "type": "nominal", "scale": {"domain": ["ReRho", "ReT", "ImRho", "ImT"], "range": ["#0000ff", "#0a0a96", "#ff0000", "#8b0000"]}},
     "strokeDash": {"field": "series", "type": "nominal", "scale": {"domain": ["ReRho", "ReT", "ImRho", "ImT"], "range": [[1, 0], [13, 7], [1, 0], [13, 7]]}}
    }},
   {"data": {"name": "levels"}, "mark": {"type": "point", "filled": true, "color": "#8fdc3c", "size": 1050, "opacity": 1},
    "encoding": {"x": {"field": "level", "type": "quantitative"}, "y": {"datum": 12.7, "type": "quantitative"}}},
   {"data": {"name": "levels"}, "mark": {"type": "text", "font": "Open Sans", "fontSize": 28, "fontWeight": "bold", "color": "white", "align": "center", "baseline": "middle", "dy": 1},
    "encoding": {"x": {"field": "level", "type": "quantitative"}, "y": {"datum": 12.7, "type": "quantitative"}, "text": {"field": "n", "type": "nominal"}}},
   {"data": {"values": [{}]}, "mark": {"type": "text", "text": "smoothed complex continuum level density & tunneling time", "font": "Open Sans", "fontSize": 42, "color": "black", "align": "right", "baseline": "alphabetic"},
    "encoding": {"x": {"datum": 1.4966, "type": "quantitative"}, "y": {"datum": 14.14, "type": "quantitative"}}},
   {"data": {"values": [{}]}, "mark": {"type": "text", "text": "ESQPT-like", "font": "Open Sans", "fontSize": 41, "fontWeight": "bold", "color": "#93e04e", "align": "left", "baseline": "alphabetic"},
    "encoding": {"x": {"datum": 1.1719, "type": "quantitative"}, "y": {"datum": 8.87, "type": "quantitative"}}},
   {"data": {"values": [{}]}, "mark": {"type": "text", "text": "structures", "font": "Open Sans", "fontSize": 41, "fontWeight": "bold", "color": "#93e04e", "align": "left", "baseline": "alphabetic"},
    "encoding": {"x": {"datum": 1.1719, "type": "quantitative"}, "y": {"datum": 6.18, "type": "quantitative"}}},
   {"data": {"values": [{}]}, "mark": {"type": "text", "text": "E", "font": "Liberation Serif", "fontSize": 84, "fontStyle": "italic", "color": "black", "align": "center", "baseline": "alphabetic"},
    "encoding": {"x": {"datum": 0.5318, "type": "quantitative"}, "y": {"datum": -9.78, "type": "quantitative"}}},
   {"data": {"values": [{}]}, "mark": {"type": "text", "text": "e,", "font": "Open Sans", "fontSize": 42, "color": "black", "align": "left", "baseline": "alphabetic"},
    "encoding": {"x": {"datum": -0.1504, "type": "quantitative"}, "y": {"datum": 14.25, "type": "quantitative"}}}
  ]}
]
}
